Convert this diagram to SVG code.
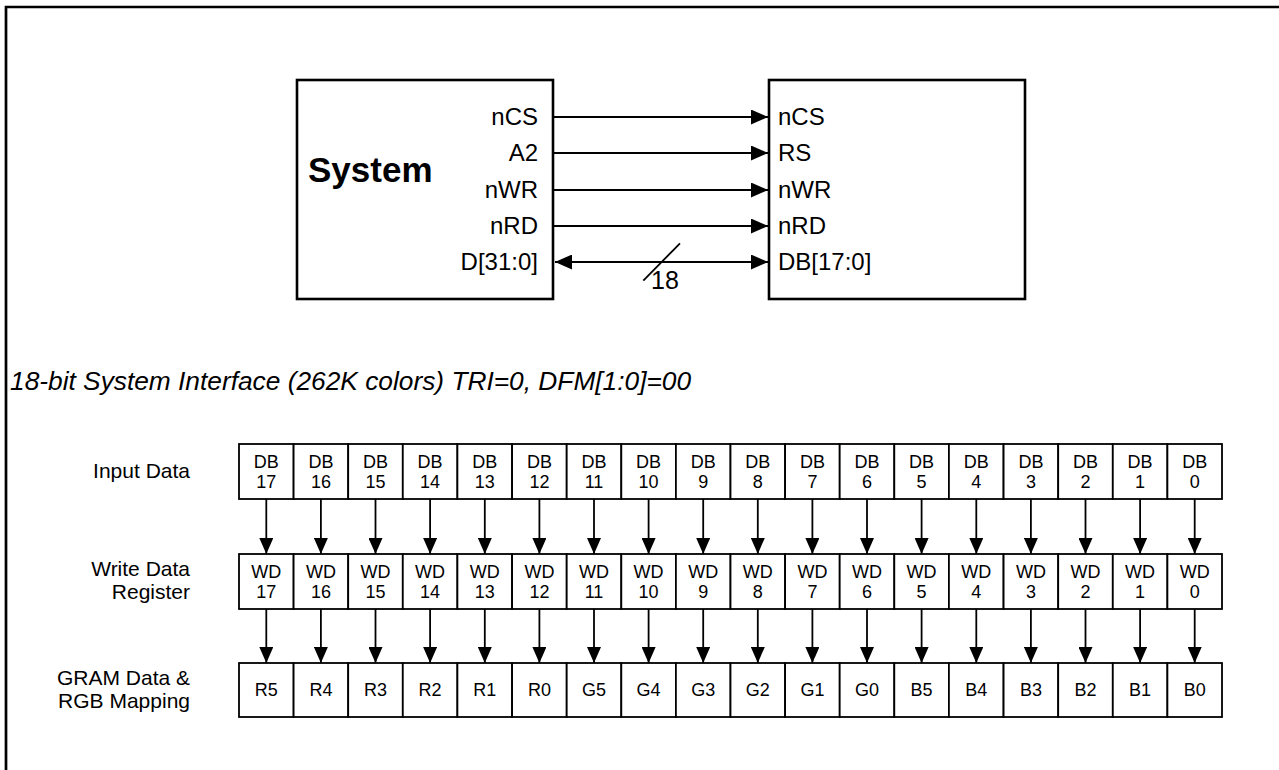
<svg xmlns="http://www.w3.org/2000/svg" width="1279" height="770" viewBox="0 0 1279 770">
<defs>
<style>
.t{font-family:"Liberation Sans",Arial,sans-serif;fill:#000}
.sig{font-size:24px}
.cell rect{fill:#fff;stroke:#000;stroke-width:1.8}
.cell text{font-family:"Liberation Sans",Arial,sans-serif;font-size:18px;text-anchor:middle;fill:#000}
.lbl{font-size:21px;text-anchor:end}
.box{fill:#fff;stroke:#000;stroke-width:2.6}
.w{stroke:#000;stroke-width:2;fill:none}
.v{stroke:#000;stroke-width:1.8;fill:none}
</style>
<marker id="ah" markerUnits="userSpaceOnUse" markerWidth="17" markerHeight="15" refX="17" refY="7.5" orient="auto-start-reverse"><path d="M0,0 L17,7.5 L0,15 z" fill="#000"/></marker>
<marker id="ah2" markerUnits="userSpaceOnUse" markerWidth="16" markerHeight="14" refX="16" refY="7" orient="auto"><path d="M0,0 L16,7 L0,14 z" fill="#000"/></marker>
</defs>
<rect width="1279" height="770" fill="#fff"/>
<path d="M6,770 V7 H1279" fill="none" stroke="#000" stroke-width="2.7"/>

<g id="system">
<rect class="box" x="297" y="80" width="256" height="219"/>
<text class="t" x="308" y="182" font-size="35" font-weight="bold">System</text>
<g class="t sig" text-anchor="end">
<text x="538" y="125">nCS</text>
<text x="538" y="161">A2</text>
<text x="538" y="198">nWR</text>
<text x="538" y="234">nRD</text>
<text x="538" y="270">D[31:0]</text>
</g>
</g>

<g id="lcd">
<rect class="box" x="769" y="80" width="256" height="219"/>
<g class="t sig">
<text x="778" y="125">nCS</text>
<text x="778" y="161">RS</text>
<text x="778" y="198">nWR</text>
<text x="778" y="234">nRD</text>
<text x="778" y="270">DB[17:0]</text>
</g>
</g>

<text class="t" x="10" y="390" font-size="26.3" font-style="italic">18-bit System Interface (262K colors) TRI=0, DFM[1:0]=00</text>

<g id="row-labels" class="t lbl">
<text x="190" y="478">Input Data</text>
<text x="190" y="576">Write Data</text>
<text x="190" y="599">Register</text>
<text x="190" y="685">GRAM Data &amp;</text>
<text x="190" y="708">RGB Mapping</text>
</g>

<g id="connectors">
<line class="w" x1="554" y1="117" x2="768" y2="117" marker-end="url(#ah)"/>
<line class="w" x1="554" y1="153" x2="768" y2="153" marker-end="url(#ah)"/>
<line class="w" x1="554" y1="190" x2="768" y2="190" marker-end="url(#ah)"/>
<line class="w" x1="554" y1="226" x2="768" y2="226" marker-end="url(#ah)"/>
<line class="w" x1="555" y1="262" x2="768" y2="262" marker-start="url(#ah)" marker-end="url(#ah)"/>
<line class="v" x1="643.3" y1="280.7" x2="680" y2="243.3"/>
<text class="t" x="651" y="289" font-size="25">18</text>
<g id="arrows1">
<line class="v" x1="266.3" y1="499" x2="266.3" y2="554" marker-end="url(#ah2)"/>
<line class="v" x1="320.9" y1="499" x2="320.9" y2="554" marker-end="url(#ah2)"/>
<line class="v" x1="375.5" y1="499" x2="375.5" y2="554" marker-end="url(#ah2)"/>
<line class="v" x1="430.1" y1="499" x2="430.1" y2="554" marker-end="url(#ah2)"/>
<line class="v" x1="484.8" y1="499" x2="484.8" y2="554" marker-end="url(#ah2)"/>
<line class="v" x1="539.4" y1="499" x2="539.4" y2="554" marker-end="url(#ah2)"/>
<line class="v" x1="594.0" y1="499" x2="594.0" y2="554" marker-end="url(#ah2)"/>
<line class="v" x1="648.6" y1="499" x2="648.6" y2="554" marker-end="url(#ah2)"/>
<line class="v" x1="703.2" y1="499" x2="703.2" y2="554" marker-end="url(#ah2)"/>
<line class="v" x1="757.8" y1="499" x2="757.8" y2="554" marker-end="url(#ah2)"/>
<line class="v" x1="812.4" y1="499" x2="812.4" y2="554" marker-end="url(#ah2)"/>
<line class="v" x1="867.0" y1="499" x2="867.0" y2="554" marker-end="url(#ah2)"/>
<line class="v" x1="921.6" y1="499" x2="921.6" y2="554" marker-end="url(#ah2)"/>
<line class="v" x1="976.3" y1="499" x2="976.3" y2="554" marker-end="url(#ah2)"/>
<line class="v" x1="1030.9" y1="499" x2="1030.9" y2="554" marker-end="url(#ah2)"/>
<line class="v" x1="1085.5" y1="499" x2="1085.5" y2="554" marker-end="url(#ah2)"/>
<line class="v" x1="1140.1" y1="499" x2="1140.1" y2="554" marker-end="url(#ah2)"/>
<line class="v" x1="1194.7" y1="499" x2="1194.7" y2="554" marker-end="url(#ah2)"/>
</g>
<g id="arrows2">
<line class="v" x1="266.3" y1="609" x2="266.3" y2="663" marker-end="url(#ah2)"/>
<line class="v" x1="320.9" y1="609" x2="320.9" y2="663" marker-end="url(#ah2)"/>
<line class="v" x1="375.5" y1="609" x2="375.5" y2="663" marker-end="url(#ah2)"/>
<line class="v" x1="430.1" y1="609" x2="430.1" y2="663" marker-end="url(#ah2)"/>
<line class="v" x1="484.8" y1="609" x2="484.8" y2="663" marker-end="url(#ah2)"/>
<line class="v" x1="539.4" y1="609" x2="539.4" y2="663" marker-end="url(#ah2)"/>
<line class="v" x1="594.0" y1="609" x2="594.0" y2="663" marker-end="url(#ah2)"/>
<line class="v" x1="648.6" y1="609" x2="648.6" y2="663" marker-end="url(#ah2)"/>
<line class="v" x1="703.2" y1="609" x2="703.2" y2="663" marker-end="url(#ah2)"/>
<line class="v" x1="757.8" y1="609" x2="757.8" y2="663" marker-end="url(#ah2)"/>
<line class="v" x1="812.4" y1="609" x2="812.4" y2="663" marker-end="url(#ah2)"/>
<line class="v" x1="867.0" y1="609" x2="867.0" y2="663" marker-end="url(#ah2)"/>
<line class="v" x1="921.6" y1="609" x2="921.6" y2="663" marker-end="url(#ah2)"/>
<line class="v" x1="976.3" y1="609" x2="976.3" y2="663" marker-end="url(#ah2)"/>
<line class="v" x1="1030.9" y1="609" x2="1030.9" y2="663" marker-end="url(#ah2)"/>
<line class="v" x1="1085.5" y1="609" x2="1085.5" y2="663" marker-end="url(#ah2)"/>
<line class="v" x1="1140.1" y1="609" x2="1140.1" y2="663" marker-end="url(#ah2)"/>
<line class="v" x1="1194.7" y1="609" x2="1194.7" y2="663" marker-end="url(#ah2)"/>
</g>
</g>

<g id="input-data">
<g id="db17" class="cell"><rect x="239" y="444" width="54.6" height="55"/><text x="266.3" y="468">DB</text><text x="266.3" y="488">17</text></g>
<g id="db16" class="cell"><rect x="293.6" y="444" width="54.6" height="55"/><text x="320.9" y="468">DB</text><text x="320.9" y="488">16</text></g>
<g id="db15" class="cell"><rect x="348.2" y="444" width="54.6" height="55"/><text x="375.5" y="468">DB</text><text x="375.5" y="488">15</text></g>
<g id="db14" class="cell"><rect x="402.8" y="444" width="54.6" height="55"/><text x="430.1" y="468">DB</text><text x="430.1" y="488">14</text></g>
<g id="db13" class="cell"><rect x="457.4" y="444" width="54.6" height="55"/><text x="484.8" y="468">DB</text><text x="484.8" y="488">13</text></g>
<g id="db12" class="cell"><rect x="512.1" y="444" width="54.6" height="55"/><text x="539.4" y="468">DB</text><text x="539.4" y="488">12</text></g>
<g id="db11" class="cell"><rect x="566.7" y="444" width="54.6" height="55"/><text x="594.0" y="468">DB</text><text x="594.0" y="488">11</text></g>
<g id="db10" class="cell"><rect x="621.3" y="444" width="54.6" height="55"/><text x="648.6" y="468">DB</text><text x="648.6" y="488">10</text></g>
<g id="db9" class="cell"><rect x="675.9" y="444" width="54.6" height="55"/><text x="703.2" y="468">DB</text><text x="703.2" y="488">9</text></g>
<g id="db8" class="cell"><rect x="730.5" y="444" width="54.6" height="55"/><text x="757.8" y="468">DB</text><text x="757.8" y="488">8</text></g>
<g id="db7" class="cell"><rect x="785.1" y="444" width="54.6" height="55"/><text x="812.4" y="468">DB</text><text x="812.4" y="488">7</text></g>
<g id="db6" class="cell"><rect x="839.7" y="444" width="54.6" height="55"/><text x="867.0" y="468">DB</text><text x="867.0" y="488">6</text></g>
<g id="db5" class="cell"><rect x="894.3" y="444" width="54.6" height="55"/><text x="921.6" y="468">DB</text><text x="921.6" y="488">5</text></g>
<g id="db4" class="cell"><rect x="948.9" y="444" width="54.6" height="55"/><text x="976.3" y="468">DB</text><text x="976.3" y="488">4</text></g>
<g id="db3" class="cell"><rect x="1003.6" y="444" width="54.6" height="55"/><text x="1030.9" y="468">DB</text><text x="1030.9" y="488">3</text></g>
<g id="db2" class="cell"><rect x="1058.2" y="444" width="54.6" height="55"/><text x="1085.5" y="468">DB</text><text x="1085.5" y="488">2</text></g>
<g id="db1" class="cell"><rect x="1112.8" y="444" width="54.6" height="55"/><text x="1140.1" y="468">DB</text><text x="1140.1" y="488">1</text></g>
<g id="db0" class="cell"><rect x="1167.4" y="444" width="54.6" height="55"/><text x="1194.7" y="468">DB</text><text x="1194.7" y="488">0</text></g>
</g>

<g id="write-data">
<g id="wd17" class="cell"><rect x="239" y="554" width="54.6" height="55"/><text x="266.3" y="578">WD</text><text x="266.3" y="598">17</text></g>
<g id="wd16" class="cell"><rect x="293.6" y="554" width="54.6" height="55"/><text x="320.9" y="578">WD</text><text x="320.9" y="598">16</text></g>
<g id="wd15" class="cell"><rect x="348.2" y="554" width="54.6" height="55"/><text x="375.5" y="578">WD</text><text x="375.5" y="598">15</text></g>
<g id="wd14" class="cell"><rect x="402.8" y="554" width="54.6" height="55"/><text x="430.1" y="578">WD</text><text x="430.1" y="598">14</text></g>
<g id="wd13" class="cell"><rect x="457.4" y="554" width="54.6" height="55"/><text x="484.8" y="578">WD</text><text x="484.8" y="598">13</text></g>
<g id="wd12" class="cell"><rect x="512.1" y="554" width="54.6" height="55"/><text x="539.4" y="578">WD</text><text x="539.4" y="598">12</text></g>
<g id="wd11" class="cell"><rect x="566.7" y="554" width="54.6" height="55"/><text x="594.0" y="578">WD</text><text x="594.0" y="598">11</text></g>
<g id="wd10" class="cell"><rect x="621.3" y="554" width="54.6" height="55"/><text x="648.6" y="578">WD</text><text x="648.6" y="598">10</text></g>
<g id="wd9" class="cell"><rect x="675.9" y="554" width="54.6" height="55"/><text x="703.2" y="578">WD</text><text x="703.2" y="598">9</text></g>
<g id="wd8" class="cell"><rect x="730.5" y="554" width="54.6" height="55"/><text x="757.8" y="578">WD</text><text x="757.8" y="598">8</text></g>
<g id="wd7" class="cell"><rect x="785.1" y="554" width="54.6" height="55"/><text x="812.4" y="578">WD</text><text x="812.4" y="598">7</text></g>
<g id="wd6" class="cell"><rect x="839.7" y="554" width="54.6" height="55"/><text x="867.0" y="578">WD</text><text x="867.0" y="598">6</text></g>
<g id="wd5" class="cell"><rect x="894.3" y="554" width="54.6" height="55"/><text x="921.6" y="578">WD</text><text x="921.6" y="598">5</text></g>
<g id="wd4" class="cell"><rect x="948.9" y="554" width="54.6" height="55"/><text x="976.3" y="578">WD</text><text x="976.3" y="598">4</text></g>
<g id="wd3" class="cell"><rect x="1003.6" y="554" width="54.6" height="55"/><text x="1030.9" y="578">WD</text><text x="1030.9" y="598">3</text></g>
<g id="wd2" class="cell"><rect x="1058.2" y="554" width="54.6" height="55"/><text x="1085.5" y="578">WD</text><text x="1085.5" y="598">2</text></g>
<g id="wd1" class="cell"><rect x="1112.8" y="554" width="54.6" height="55"/><text x="1140.1" y="578">WD</text><text x="1140.1" y="598">1</text></g>
<g id="wd0" class="cell"><rect x="1167.4" y="554" width="54.6" height="55"/><text x="1194.7" y="578">WD</text><text x="1194.7" y="598">0</text></g>
</g>

<g id="gram">
<g id="r5" class="cell"><rect x="239" y="663" width="54.6" height="54"/><text x="266.3" y="696">R5</text></g>
<g id="r4" class="cell"><rect x="293.6" y="663" width="54.6" height="54"/><text x="320.9" y="696">R4</text></g>
<g id="r3" class="cell"><rect x="348.2" y="663" width="54.6" height="54"/><text x="375.5" y="696">R3</text></g>
<g id="r2" class="cell"><rect x="402.8" y="663" width="54.6" height="54"/><text x="430.1" y="696">R2</text></g>
<g id="r1" class="cell"><rect x="457.4" y="663" width="54.6" height="54"/><text x="484.8" y="696">R1</text></g>
<g id="r0" class="cell"><rect x="512.1" y="663" width="54.6" height="54"/><text x="539.4" y="696">R0</text></g>
<g id="g5" class="cell"><rect x="566.7" y="663" width="54.6" height="54"/><text x="594.0" y="696">G5</text></g>
<g id="g4" class="cell"><rect x="621.3" y="663" width="54.6" height="54"/><text x="648.6" y="696">G4</text></g>
<g id="g3" class="cell"><rect x="675.9" y="663" width="54.6" height="54"/><text x="703.2" y="696">G3</text></g>
<g id="g2" class="cell"><rect x="730.5" y="663" width="54.6" height="54"/><text x="757.8" y="696">G2</text></g>
<g id="g1" class="cell"><rect x="785.1" y="663" width="54.6" height="54"/><text x="812.4" y="696">G1</text></g>
<g id="g0" class="cell"><rect x="839.7" y="663" width="54.6" height="54"/><text x="867.0" y="696">G0</text></g>
<g id="b5" class="cell"><rect x="894.3" y="663" width="54.6" height="54"/><text x="921.6" y="696">B5</text></g>
<g id="b4" class="cell"><rect x="948.9" y="663" width="54.6" height="54"/><text x="976.3" y="696">B4</text></g>
<g id="b3" class="cell"><rect x="1003.6" y="663" width="54.6" height="54"/><text x="1030.9" y="696">B3</text></g>
<g id="b2" class="cell"><rect x="1058.2" y="663" width="54.6" height="54"/><text x="1085.5" y="696">B2</text></g>
<g id="b1" class="cell"><rect x="1112.8" y="663" width="54.6" height="54"/><text x="1140.1" y="696">B1</text></g>
<g id="b0" class="cell"><rect x="1167.4" y="663" width="54.6" height="54"/><text x="1194.7" y="696">B0</text></g>
</g>
</svg>
